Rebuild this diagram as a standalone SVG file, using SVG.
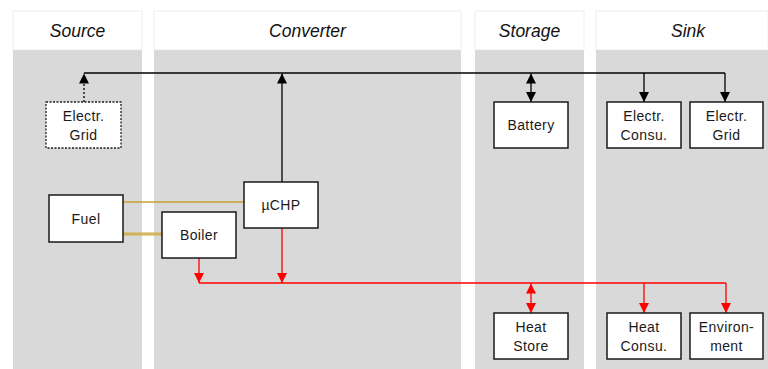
<svg xmlns="http://www.w3.org/2000/svg" width="768" height="369" viewBox="0 0 768 369">
<defs>
<marker id="ak" viewBox="0 0 10 10" refX="10" refY="5" markerWidth="10" markerHeight="10" markerUnits="userSpaceOnUse" orient="auto-start-reverse"><path d="M0,0 L10,5 L0,10 z" fill="#000"/></marker>
<marker id="ar" viewBox="0 0 10 10" refX="10" refY="5" markerWidth="10" markerHeight="10" markerUnits="userSpaceOnUse" orient="auto-start-reverse"><path d="M0,0 L10,5 L0,10 z" fill="#ff0000"/></marker>
</defs>
<style>
.hdr{fill:#fff;stroke:#eeeeee;stroke-width:1}
.lane{fill:#d9d9d9}
.ht{font-family:"Liberation Sans",Arial,sans-serif;font-style:italic;font-size:17.5px;fill:#111;text-anchor:middle}
.box{fill:#fff;stroke:#1a1a1a;stroke-width:1.5}
.t{font-family:"Liberation Sans",Arial,sans-serif;font-size:14px;letter-spacing:0.4px;fill:#1a1a1a;text-anchor:middle}
.el{fill:none;stroke:#000;stroke-width:1.3}
.th{fill:none;stroke:#ff0000;stroke-width:1.3}
</style>
<rect width="768" height="369" fill="#fff"/>
<g id="lanes">
<rect class="hdr" x="13" y="11" width="129" height="39"/>
<rect class="lane" x="13" y="50" width="129" height="319"/>
<text class="ht" x="77.5" y="37">Source</text>
<rect class="hdr" x="154" y="11" width="307" height="39"/>
<rect class="lane" x="154" y="50" width="307" height="319"/>
<text class="ht" x="307.5" y="37">Converter</text>
<rect class="hdr" x="475" y="11" width="109" height="39"/>
<rect class="lane" x="475" y="50" width="109" height="319"/>
<text class="ht" x="529.5" y="37">Storage</text>
<rect class="hdr" x="596" y="11" width="172" height="39"/>
<rect class="lane" x="596" y="50" width="172" height="319"/>
<text class="ht" x="688" y="37">Sink</text>
</g>
<g id="connectors">
<line class="el" x1="84" y1="73" x2="725" y2="73"/>
<line class="el" x1="84" y1="102" x2="84" y2="73.5" stroke-dasharray="2 2" marker-end="url(#ak)"/>
<line class="el" x1="282" y1="182" x2="282" y2="73.5" marker-end="url(#ak)"/>
<line class="el" x1="531" y1="73.5" x2="531" y2="102" marker-start="url(#ak)" marker-end="url(#ak)"/>
<line class="el" x1="644" y1="73" x2="644" y2="102" marker-end="url(#ak)"/>
<line class="el" x1="725" y1="73" x2="725" y2="102" marker-end="url(#ak)"/>
<line x1="123" y1="202" x2="244" y2="202" stroke="#c9a030" stroke-width="1.5"/>
<line x1="123" y1="234" x2="163" y2="234" stroke="#d6b860" stroke-width="4" opacity="0.6"/>
<line x1="123" y1="234" x2="163" y2="234" stroke="#c9a030" stroke-width="1.5" opacity="0.7"/>
<line class="th" x1="199" y1="283" x2="726" y2="283"/>
<line class="th" x1="199" y1="258" x2="199" y2="283" marker-end="url(#ar)"/>
<line class="th" x1="282" y1="228" x2="282" y2="283" marker-end="url(#ar)"/>
<line class="th" x1="531" y1="283.5" x2="531" y2="313" marker-start="url(#ar)" marker-end="url(#ar)"/>
<line class="th" x1="644" y1="283" x2="644" y2="313" marker-end="url(#ar)"/>
<line class="th" x1="726" y1="283" x2="726" y2="313" marker-end="url(#ar)"/>
</g>
<g id="grid-source">
<rect x="46" y="102" width="75" height="46" fill="#fff" stroke="#1a1a1a" stroke-width="1.3" stroke-dasharray="2 1.5"/>
<text class="t" x="83.5" y="121">Electr.</text>
<text class="t" x="83.5" y="140">Grid</text>
</g>
<g id="fuel">
<rect class="box" x="49" y="195" width="74" height="47"/>
<text class="t" x="86" y="224">Fuel</text>
</g>
<g id="boiler">
<rect class="box" x="162" y="212" width="74" height="46"/>
<text class="t" x="199" y="240">Boiler</text>
</g>
<g id="uchp">
<rect class="box" x="244" y="182" width="74" height="46"/>
<text class="t" x="281" y="210">µCHP</text>
</g>
<g id="battery">
<rect class="box" x="494" y="102" width="74" height="46"/>
<text class="t" x="531" y="130">Battery</text>
</g>
<g id="electr-consu">
<rect class="box" x="607" y="102" width="74" height="46"/>
<text class="t" x="644" y="121">Electr.</text>
<text class="t" x="644" y="140">Consu.</text>
</g>
<g id="grid-sink">
<rect class="box" x="690" y="102" width="73" height="46"/>
<text class="t" x="726.5" y="121">Electr.</text>
<text class="t" x="726.5" y="140">Grid</text>
</g>
<g id="heat-store">
<rect class="box" x="494" y="313" width="74" height="46"/>
<text class="t" x="531" y="332">Heat</text>
<text class="t" x="531" y="351">Store</text>
</g>
<g id="heat-consu">
<rect class="box" x="607" y="313" width="74" height="46"/>
<text class="t" x="644" y="332">Heat</text>
<text class="t" x="644" y="351">Consu.</text>
</g>
<g id="environment">
<rect class="box" x="690" y="313" width="73" height="46"/>
<text class="t" x="726.5" y="332">Environ-</text>
<text class="t" x="726.5" y="351">ment</text>
</g>
</svg>
